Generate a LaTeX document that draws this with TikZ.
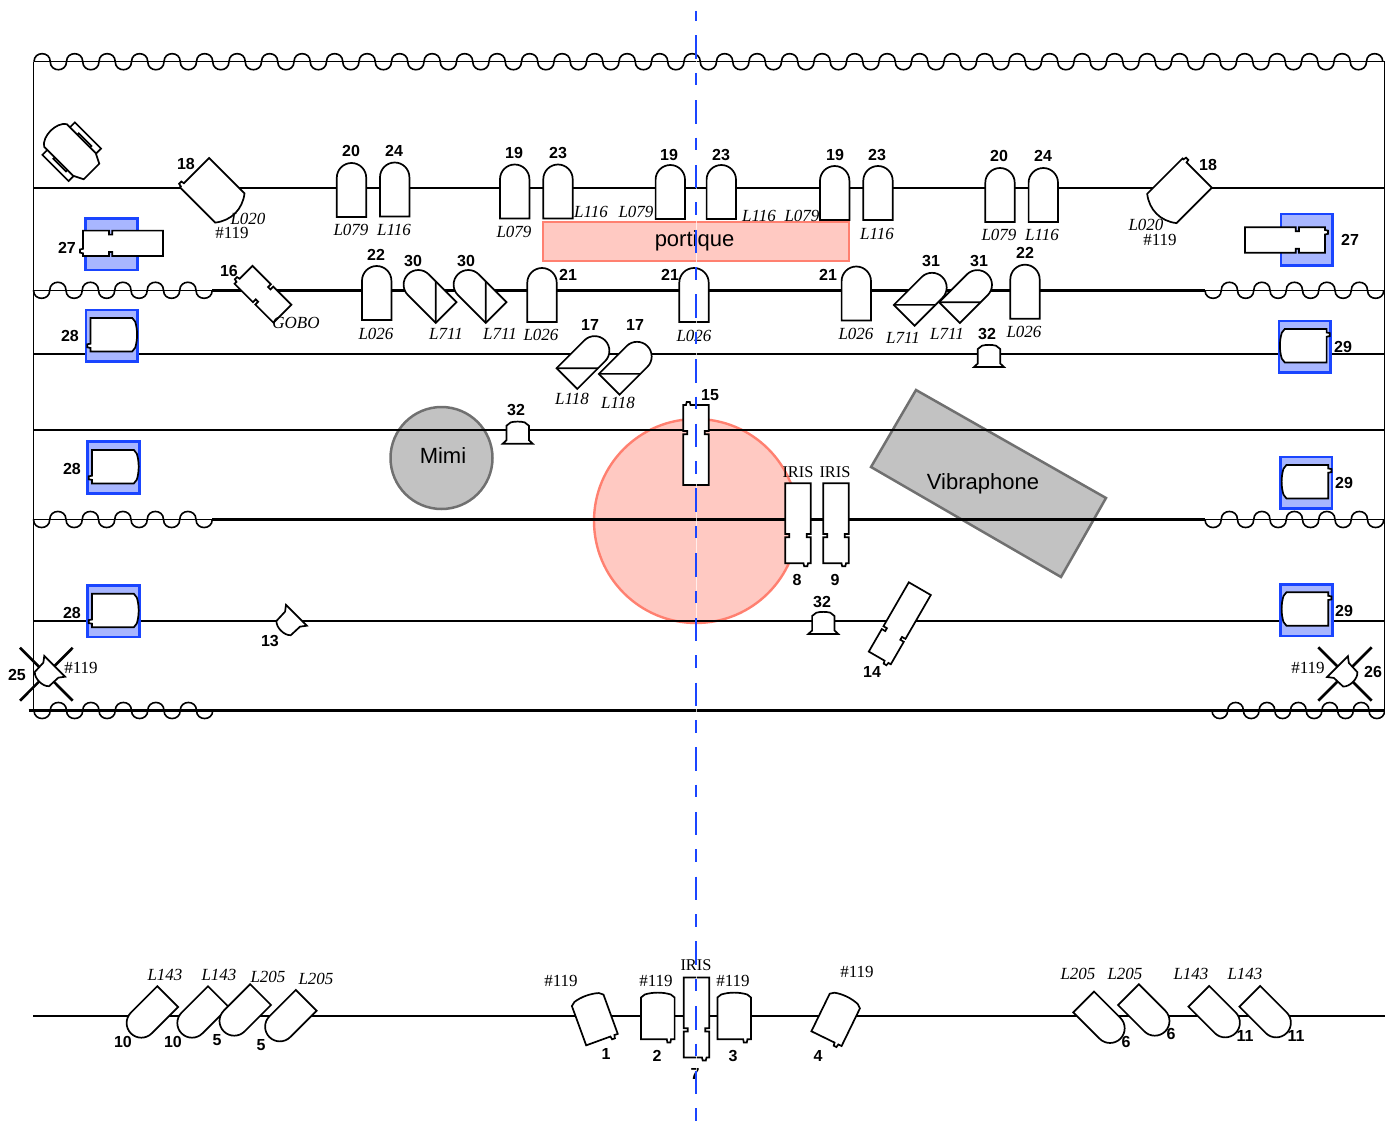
\documentclass[tikz,border=0pt]{standalone}
\usepackage{fontspec}
\setmainfont{Liberation Serif}
\setsansfont{Liberation Sans}
\definecolor{planblue}{HTML}{1A45FF}
\definecolor{boxfill}{HTML}{A8B6FF}
\definecolor{pinkfill}{HTML}{FFC9C2}
\definecolor{pinkline}{HTML}{FF8070}
\definecolor{greyfill}{HTML}{C2C2C2}
\definecolor{greyline}{HTML}{707070}
\tikzset{
    lamp/.style={draw,fill=white,line width=1.7pt},
    rail/.style={draw,line width=2.4pt},
    hairline/.style={draw,line width=1pt},
    wave/.style={draw,line width=1.6pt},
    gelbox/.style={draw=planblue,fill=boxfill,line width=2.6pt},
    pinkarea/.style={draw=pinkline,fill=pinkfill,line width=2.4pt},
    greyarea/.style={draw=greyline,fill=greyfill,line width=2.5pt},
    num/.style={font=\fontsize{16}{18}\selectfont\sffamily\bfseries,inner sep=0pt},
    gel/.style={font=\fontsize{17}{20}\selectfont\itshape,inner sep=0pt},
    filt/.style={font=\fontsize{17}{20}\selectfont,inner sep=0pt},
    iris/.style={font=\fontsize{16.4}{20}\selectfont,inner sep=0pt},
    area/.style={font=\fontsize{22}{26}\selectfont\sffamily,inner sep=0pt},
    pics/dome/.style={code={
        \draw[lamp] (-14.7,#1) -- (-14.7,{-#1+14.7})
            .. controls (-14.7,{-#1+6.6}) and (-8.1,{-#1}) .. (0,{-#1})
            .. controls (8.1,{-#1}) and (14.7,{-#1+6.6}) .. (14.7,{-#1+14.7})
            -- (14.7,#1) -- cycle;
    }},
    pics/dome/.default=27,
    pics/domecut/.style={code={
        \draw[lamp] (-14.7,27) -- (-14.7,-12.3)
            .. controls (-14.7,-20.4) and (-8.1,-27) .. (0,-27)
            .. controls (8.1,-27) and (14.7,-20.4) .. (14.7,-12.3)
            -- (14.7,27) -- cycle;
        \draw[lamp] (-14.7,27) -- (14.7,-2.4);
    }},
    pics/decoupe/.style={code={
        \draw[lamp] (-12.7,#1) -- (5.5,#1) -- (6.2,{#1+3}) -- (9.3,{#1+3}) -- (10,#1) -- (12.7,#1)
            -- (12.7,{#1-26}) -- (8.7,{#1-26}) -- (8.7,{#1-29.3}) -- (12.7,{#1-29.3}) -- (12.7,{-#1})
            -- (-12.7,{-#1}) -- (-12.7,{#1-29.3}) -- (-8.7,{#1-29.3}) -- (-8.7,{#1-26}) -- (-12.7,{#1-26})
            -- cycle;
    }},
    pics/decoupe/.default=40,
    pics/par/.style={code={
        \draw[lamp] (-16.8,23.3) -- (9,23.3) -- (9.6,26.5) -- (12.6,26.5) -- (13.2,23.3) -- (16.8,23.3)
            -- (16.8,-18.5) -- (13,-21.5) .. controls (5,-24) and (-5,-24) .. (-13,-21.5)
            -- (-16.8,-18.5) -- cycle;
    }},
    pics/bigpc/.style={code={
        \draw[lamp] (-20.7,25) -- (15,25) -- (15.6,28) -- (18.8,28) -- (19.4,25) -- (20.7,25)
            -- (20.7,-25) .. controls (8,-35) and (-8,-35) .. (-20.7,-25) -- cycle;
    }},
    pics/smallpc/.style={code={
        \draw[lamp] (-14.7,11) -- (14.7,11) -- (10.6,5.6) -- (10.1,-7)
            .. controls (6,-12) and (-6,-12) .. (-10.1,-7) -- (-10.6,5.6) -- cycle;
    }},
    pics/blinder/.style={code={
        \draw[lamp] (-15,11) -- (15,11) -- (11.2,7.5) -- (11.2,-7) -- (7,-10.3)
            .. controls (3,-11.4) and (-3,-11.4) .. (-7,-10.3) -- (-11.2,-7) -- (-11.2,7.5) -- cycle;
    }},
    pics/mover/.style={code={
        \draw[lamp] (-18.5,-23) rectangle (18.5,-10);
        \draw[lamp] (-18.5,23) rectangle (18.5,10);
        \draw[lamp] (-8,-18) rectangle (10,-12);
        \draw[lamp] (-8,18) rectangle (10,12);
        \draw[lamp] (28,-11) -- (28,11) -- (18,16) -- (-23,16)
            .. controls (-32,10) and (-32,-10) .. (-23,-16) -- (18,-16) -- cycle;
    }}
}
% wavy curtain: start x, y, half waves, first direction, half wave width
\newcommand{\rideau}[5]{
    \draw[wave] (#1,#2) \foreach \k [evaluate={\k as \h using (2*mod(\k,2)-1)*#4*10.7}] in {1,...,#3} {
        .. controls +(0,\h) and +(0,\h) .. ++(#5,0)
    };
}
\begin{document}
\begin{tikzpicture}[x=1pt,y=-1pt]
    \useasboundingbox (0,0) rectangle (1385,1121);
    % zones under the rails
    \draw[pinkarea]             (696,521) circle[radius=102];
    \draw[greyarea]             (916,390) -- (1106,498) -- (1061,577) -- (871,467) -- cycle;
    \draw[greyarea]             (441.5,458) circle[radius=51];

    % rails
    \draw[hairline] (33.5,61.7) -- (1385,61.7);
    \draw[hairline] (33.5,61.7) -- (33.5,711);
    \draw[hairline] (1384,61.7) -- (1384,711);
    \draw[rail]     (33,188.3)  -- (1385,188.3);
    \draw[hairline] (33,290.3)  -- (212,290.3);
    \draw[rail]     (212,290.3) -- (1205,290.3);
    \draw[hairline] (1205,290.3) -- (1385,290.3);
    \draw[rail]     (33,354)    -- (1385,354);
    \draw[rail]     (33,430)    -- (1385,430);
    \draw[hairline] (33,519.5)  -- (212,519.5);
    \draw[rail]     (212,519.5) -- (1205,519.5);
    \draw[hairline] (1205,519.5) -- (1385,519.5);
    \draw[rail]     (33,621)    -- (1385,621);
    \draw[rail]     (28.5,710.5) -- (1385,710.5);
    \draw[rail]     (33,1016)   -- (1385,1016);

    % curtains
    \rideau{34}{61.7}{83}{-1}{16.25}
    \rideau{33.5}{290.3}{11}{1}{16.25}
    \rideau{1205}{290.3}{11}{1}{16.25}
    \rideau{33.5}{519.5}{11}{1}{16.25}
    \rideau{1205}{519.5}{11}{1}{16.25}
    \rideau{34}{710.5}{11}{1}{16.25}
    \rideau{1212}{710.5}{11}{1}{15.7}

    % zones above the rails
    \draw[pinkarea] (543,222) rectangle (849,261);
    \node[area] (portique) at (694.5,241) {portique};
    \node[area] (mimi)     at (443,456)   {Mimi};
    \node[area] (vibra)    at (983,484)   {Vibraphone};

    % gel frames
    \draw[gelbox] (85.7,218.3)  rectangle +(51.6,51.6);
    \draw[gelbox] (86,310)      rectangle +(51.6,51.6);
    \draw[gelbox] (87.7,441.7)  rectangle +(51.6,51.6);
    \draw[gelbox] (87.7,585.5)  rectangle +(51.6,51.6);
    \draw[gelbox] (1281,214)    rectangle +(51.6,51.6);
    \draw[gelbox] (1279,321)    rectangle +(51.6,51.6);
    \draw[gelbox] (1280.3,457)  rectangle +(51.6,51.6);
    \draw[gelbox] (1280.7,584.5) rectangle +(51.6,51.6);

    % crosses
    \draw[line width=2.6pt] (20,647.7)    -- (72.7,700.7);
    \draw[line width=2.6pt] (72.7,647.7)  -- (20,700.7);
    \draw[line width=2.6pt] (1318.3,647.3) -- (1371.7,700.7);
    \draw[line width=2.6pt] (1371.7,647.3) -- (1318.3,700.7);

    % first rail
    \pic[rotate=-135]   at (212.2,190.3) {bigpc};
    \pic[rotate=135]    at (1179.5,190.8) {bigpc};
    \pic                at (351.5,190)   {dome};
    \pic                at (394.7,189.5) {dome};
    \pic                at (514.7,191.5) {dome};
    \pic                at (558,191.5)   {dome};
    \pic                at (670.3,192)   {dome};
    \pic                at (721.3,192)   {dome};
    \pic                at (834.7,193)   {dome};
    \pic                at (878,193)     {dome};
    \pic                at (1000,195)    {dome};
    \pic                at (1043.3,195)  {dome};
    \pic[rotate=-45]    at (71.7,151.7)  {mover};
    % second rail
    \pic                at (376.7,293)   {dome};
    \pic                at (542,295)     {dome};
    \pic                at (694,295)     {dome};
    \pic                at (856.3,293.5) {dome};
    \pic                at (1025,291.7)  {dome};
    \pic[rotate=45]     at (427,293.4)   {domecut};
    \pic[rotate=45]     at (477,293.4)   {domecut};
    \pic[rotate=-45]    at (923.3,296.2) {domecut};
    \pic[rotate=-45]    at (968.6,293.5) {domecut};
    \pic[rotate=-45]    at (586,359.5)   {domecut};
    \pic[rotate=-45]    at (628.3,365.2) {domecut};
    \pic[rotate=-135]   at (263,294.3)   {decoupe=27.5};
    \pic[rotate=-90]    at (123,243.3)   {decoupe};
    \pic[rotate=90]     at (1285,240)    {decoupe};
    % side lamps
    \pic[rotate=-90]    at (113.7,334.7) {par};
    \pic[rotate=-90]    at (115.3,466.7) {par};
    \pic[rotate=-90]    at (115.3,610.5) {par};
    \pic[rotate=90]     at (1303.3,345.7) {par};
    \pic[rotate=90]     at (1305,481.7)  {par};
    \pic[rotate=90]     at (1305,609)    {par};
    \pic                at (989,356)     {blinder};
    \pic                at (517.7,432.7) {blinder};
    \pic                at (823.3,623)   {blinder};
    \pic[rotate=180]    at (696,445)     {decoupe};
    \pic                at (798,523.3)   {decoupe};
    \pic                at (836,523.3)   {decoupe};
    \pic[rotate=-30]    at (899.8,623.3) {decoupe};
    \pic[rotate=135]    at (288.6,623.1) {smallpc};
    \pic[rotate=135]    at (46.9,674.1)  {smallpc};
    \pic[rotate=-135]   at (1345.3,674.4) {smallpc};
    % bottom rail
    \pic[rotate=135]    at (149.3,1015)  {dome=26};
    \pic[rotate=135]    at (200,1015)    {dome=26};
    \pic[rotate=135]    at (242.2,1013)  {dome=26};
    \pic[rotate=135]    at (287.8,1018.7) {dome=26};
    \pic[rotate=20]     at (594,1017.7)  {par};
    \pic                at (657.8,1016)  {par};
    \pic                at (734.2,1016)  {par};
    \pic[rotate=-26]    at (836.7,1017.7) {par};
    \pic                at (696.5,1017.5) {decoupe};
    \pic[rotate=-135]   at (1102,1020.3) {dome=26};
    \pic[rotate=-135]   at (1146.8,1013) {dome=26};
    \pic[rotate=-135]   at (1217.2,1014.7) {dome=26};
    \pic[rotate=-135]   at (1268.2,1014.7) {dome=26};

    % numbers
    \node[num] (n18a) at (186,164)  {18};
    \node[num] (n20a) at (351,151)  {20};
    \node[num] (n24a) at (394,151)  {24};
    \node[num] (n19a) at (514,153)  {19};
    \node[num] (n23a) at (558,153)  {23};
    \node[num] (n19b) at (669,155)  {19};
    \node[num] (n23b) at (721,155)  {23};
    \node[num] (n19c) at (835,155)  {19};
    \node[num] (n23c) at (877,155)  {23};
    \node[num] (n20b) at (999,156)  {20};
    \node[num] (n24b) at (1043,156) {24};
    \node[num] (n18b) at (1208,165) {18};
    \node[num] (n27a) at (67,248)   {27};
    \node[num] (n27b) at (1350,240) {27};
    \node[num] (n16)  at (229,271)  {16};
    \node[num] (n22a) at (376,255)  {22};
    \node[num] (n30a) at (413,261)  {30};
    \node[num] (n30b) at (466,261)  {30};
    \node[num] (n21a) at (568,275)  {21};
    \node[num] (n21b) at (670,275)  {21};
    \node[num] (n21c) at (828,275)  {21};
    \node[num] (n31a) at (931,261)  {31};
    \node[num] (n31b) at (979,261)  {31};
    \node[num] (n22b) at (1025,253) {22};
    \node[num] (n28a) at (70,336)   {28};
    \node[num] (n28b) at (72,469)   {28};
    \node[num] (n28c) at (72,613)   {28};
    \node[num] (n29a) at (1343,347) {29};
    \node[num] (n29b) at (1344,483) {29};
    \node[num] (n29c) at (1344,611) {29};
    \node[num] (n17a) at (590,325)  {17};
    \node[num] (n17b) at (635,325)  {17};
    \node[num] (n32a) at (987,334)  {32};
    \node[num] (n32b) at (516,410)  {32};
    \node[num] (n32c) at (822,602)  {32};
    \node[num] (n15)  at (710,395)  {15};
    \node[num] (n8)   at (797,580)  {8};
    \node[num] (n9)   at (835,580)  {9};
    \node[num] (n14)  at (872,672)  {14};
    \node[num] (n13)  at (270,641)  {13};
    \node[num] (n25)  at (17,675)   {25};
    \node[num] (n26)  at (1373,672) {26};
    \node[num] (n10a) at (123,1042) {10};
    \node[num] (n10b) at (173,1042) {10};
    \node[num] (n5a)  at (217,1040) {5};
    \node[num] (n5b)  at (261,1045) {5};
    \node[num] (n1)   at (606,1054) {1};
    \node[num] (n2)   at (657,1056) {2};
    \node[num] (n3)   at (733,1056) {3};
    \node[num] (n4)   at (818,1056) {4};
    \node[num] (n7)   at (695,1074) {7};
    \node[num] (n6a)  at (1126,1042) {6};
    \node[num] (n6b)  at (1171,1034) {6};
    \node[num] (n11a) at (1245,1036) {11};
    \node[num] (n11b) at (1296,1036) {11};

    % gels
    \node[gel]  (g01) at (248,218.5) {L020};
    \node[filt] (g02) at (232,232.5) {\#119};
    \node[gel]  (g03) at (351,230)  {L079};
    \node[gel]  (g04) at (394,230)  {L116};
    \node[gel]  (g05) at (514,232)  {L079};
    \node[gel]  (g06) at (591,212)  {L116};
    \node[gel]  (g07) at (636,212)  {L079};
    \node[gel]  (g08) at (759,216)  {L116};
    \node[gel]  (g09) at (802,216)  {L079};
    \node[gel]  (g10) at (877,234)  {L116};
    \node[gel]  (g11) at (999,235)  {L079};
    \node[gel]  (g12) at (1042,235) {L116};
    \node[gel]  (g13) at (1146,224.5) {L020};
    \node[filt] (g14) at (1160,239.5) {\#119};
    \node[gel]  (g15) at (296,323)  {GOBO};
    \node[gel]  (g16) at (376,334)  {L026};
    \node[gel]  (g17) at (446,334)  {L711};
    \node[gel]  (g18) at (500,334)  {L711};
    \node[gel]  (g19) at (541,335)  {L026};
    \node[gel]  (g20) at (694,336)  {L026};
    \node[gel]  (g21) at (856,334)  {L026};
    \node[gel]  (g22) at (903,338)  {L711};
    \node[gel]  (g23) at (947,334)  {L711};
    \node[gel]  (g24) at (1024,332) {L026};
    \node[gel]  (g25) at (572,399)  {L118};
    \node[gel]  (g26) at (618,403)  {L118};
    \node[iris] (g27) at (798,472)  {IRIS};
    \node[iris] (g28) at (835,472)  {IRIS};
    \node[filt] (g29) at (81,668)   {\#119};
    \node[filt] (g30) at (1308,668) {\#119};
    \node[gel]  (g31) at (165,975)  {L143};
    \node[gel]  (g32) at (219,975)  {L143};
    \node[gel]  (g33) at (268,977)  {L205};
    \node[gel]  (g34) at (316,979)  {L205};
    \node[filt] (g35) at (561,981)  {\#119};
    \node[filt] (g36) at (656,981)  {\#119};
    \node[filt] (g37) at (733,981)  {\#119};
    \node[filt] (g38) at (857,972)  {\#119};
    \node[iris] (g39) at (696,965)  {IRIS};
    \node[gel]  (g40) at (1078,974) {L205};
    \node[gel]  (g41) at (1125,974) {L205};
    \node[gel]  (g42) at (1191,974) {L143};
    \node[gel]  (g43) at (1245,974) {L143};

    % axis
    \draw[white,opacity=0.7,line width=1pt] (696,11) -- (696,1121);
    \draw[planblue,line width=2pt,dash pattern=on 23.5pt off 14pt on 12.5pt off 14.7pt,dash phase=40.2pt]
        (696,11) -- (696,1121);
\end{tikzpicture}
\end{document}
